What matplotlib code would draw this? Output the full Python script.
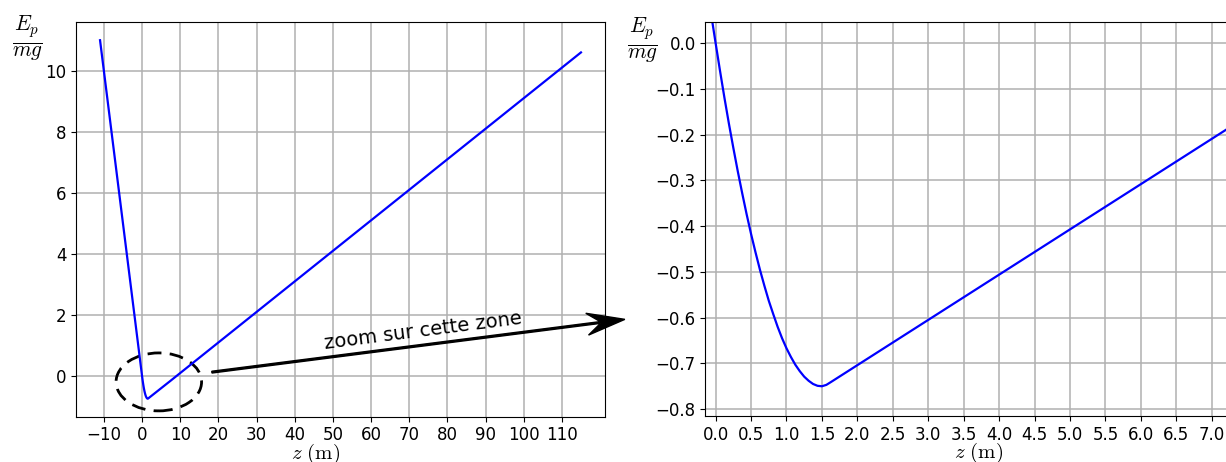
import numpy as np
import matplotlib
matplotlib.use("Agg")
import matplotlib.pyplot as plt
from matplotlib.patches import Ellipse, FancyArrow
from matplotlib.transforms import IdentityTransform

plt.rcParams['mathtext.fontset'] = 'cm'
plt.rcParams['font.family'] = ['DejaVu Sans']

# Data: z (m) and Ep/(mg)
z_vals = [-11.0, -0.1, 0.0, 0.0625, 0.125, 0.1875, 0.25, 0.3125, 0.375, 0.4375,
          0.5, 0.5625, 0.625, 0.6875, 0.75, 0.8125, 0.875, 0.9375, 1.0, 1.0625,
          1.125, 1.1875, 1.25, 1.3125, 1.375, 1.4375, 1.5, 1.5625, 1.625,
          7.5, 115.0]
ep_vals = [11.0, 0.1, 0.0, -0.061, -0.120, -0.176, -0.229, -0.280, -0.328, -0.374,
           -0.417, -0.457, -0.495, -0.530, -0.563, -0.592, -0.620, -0.645, -0.667,
           -0.686, -0.703, -0.717, -0.729, -0.738, -0.745, -0.749, -0.750, -0.747,
           -0.741, -0.160, 10.6]

left_xticks = list(range(-10, 111, 10))
left_yticks = [0, 2, 4, 6, 8, 10]
right_xticks = [0.0, 0.5, 1.0, 1.5, 2.0, 2.5, 3.0, 3.5, 4.0, 4.5, 5.0, 5.5, 6.0, 6.5, 7.0]
right_yticks = [0.0, -0.1, -0.2, -0.3, -0.4, -0.5, -0.6, -0.7, -0.8]

ylabel = r'$\frac{E_p}{mg}$'
xlabel = r'$z\ (\mathrm{m})$'
zoom_text = 'zoom sur cette zone'

fig = plt.figure(figsize=(12.26, 4.62), dpi=100)
W, H = 1226.0, 462.0
ax1 = fig.add_axes([76 / W, 1 - 416.6 / H, 529 / W, 394.3 / H])
ax2 = fig.add_axes([705.4 / W, 1 - 416.0 / H, 529 / W, 394.0 / H])

for ax in (ax1, ax2):
    ax.plot(z_vals, ep_vals, color='blue', lw=1.6)
    ax.grid(True, color='#b0b0b0', lw=1.1)
    ax.tick_params(labelsize=12)
    ax.set_axisbelow(True)

ax1.set_xticks(left_xticks)
ax1.set_yticks(left_yticks)
ax1.set_xlim(-17.3, 121.3)
ax1.set_ylim(-1.3375, 11.5875)

ax2.set_xticks(right_xticks)
ax2.set_yticks(right_yticks)
ax2.set_xlim(-0.144, 7.32)
ax2.set_ylim(-0.815, 0.046)

ax1.set_ylabel(ylabel, rotation=0, fontsize=22, ha='center', va='center')
ax1.yaxis.set_label_coords(-0.0926, 0.958)
ax2.set_ylabel(ylabel, rotation=0, fontsize=22, ha='center', va='center')
ax2.yaxis.set_label_coords(-0.118, 0.952)

ax1.set_xlabel(xlabel, fontsize=15)
ax1.xaxis.set_label_coords(0.4537, -0.064)
ax2.set_xlabel(xlabel, fontsize=15)
ax2.xaxis.set_label_coords(0.517, -0.064)

# dashed ellipse
ell = Ellipse((4.4, -0.2), 22.4, 1.9, fill=False, edgecolor='black', lw=2,
              linestyle=(0, (5, 3)), clip_on=False)
ax1.add_patch(ell)

ax1.text(73.6, 1.47, zoom_text, fontsize=14, rotation=7.3, ha='center', va='center')

# arrow (drawn in pixel space so head isn't distorted)
tail = ax1.transData.transform((18.3, 0.12))
tip = ax1.transData.transform((126.5, 1.85))
arr = FancyArrow(tail[0], tail[1], tip[0] - tail[0], tip[1] - tail[1],
                 width=1.8, head_width=22, head_length=38, overhang=0.35,
                 length_includes_head=True, color='black',
                 transform=IdentityTransform())
fig.add_artist(arr)

fig.savefig('out.png', dpi=100)
